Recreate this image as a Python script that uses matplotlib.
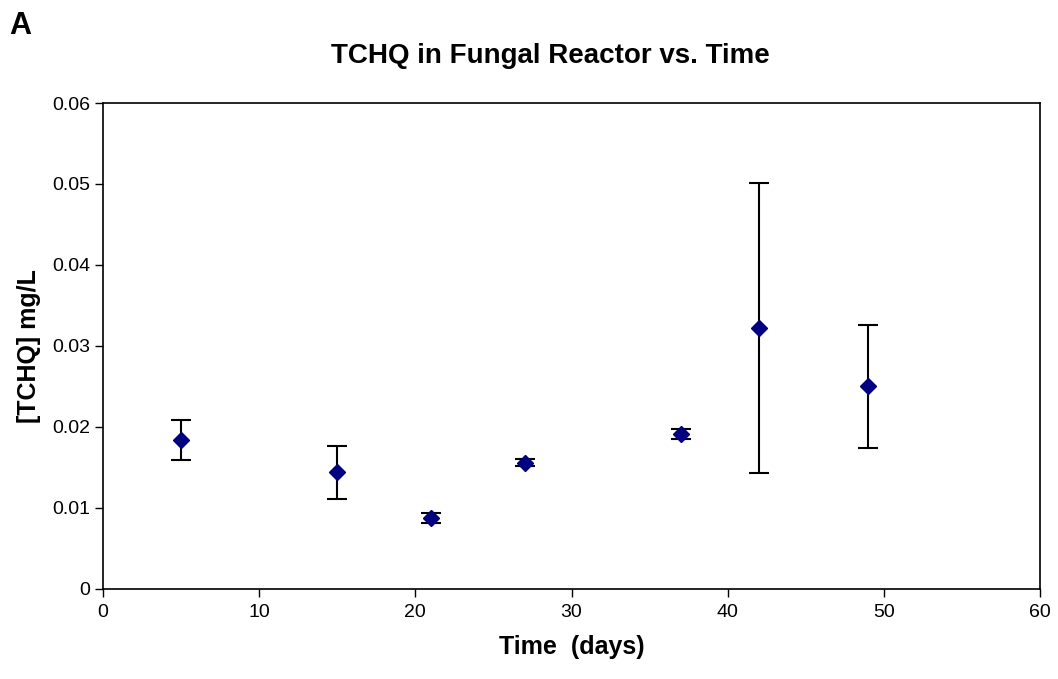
import matplotlib.pyplot as plt
import numpy as np

plt.rc('font', family='Liberation Sans')
plt.rc('font', size=12)

# 데이터
days = [5, 15, 21, 27, 37, 42, 49]
tchq = [0.0184, 0.0144, 0.0088, 0.0156, 0.0191, 0.0322, 0.0250]
tchq_err = [0.0025, 0.0033, 0.0006, 0.0004, 0.0006, 0.0179, 0.0076]
ytick_labels = ['0', '0.01', '0.02', '0.03', '0.04', '0.05', '0.06']

fig = plt.figure(figsize=(10.58, 6.79), dpi=100)
ax = fig.add_axes([0.0974, 0.1326, 0.8856, 0.7157])

ax.errorbar(days, tchq, yerr=tchq_err, fmt='D', color='#000080', markersize=8,
            ecolor='black', elinewidth=1.5, capsize=7, capthick=1.5)

ax.set_xlim(0, 60)
ax.set_ylim(0, 0.06)
ax.set_xticks(np.arange(0, 61, 10))
ax.set_yticks(np.arange(0, 0.061, 0.01))
ax.set_yticklabels(ytick_labels)
ax.tick_params(direction='out', length=6, width=1, labelsize=14)
ax.tick_params(axis='x', pad=5)
ax.tick_params(axis='y', pad=3)
for s in ax.spines.values():
    s.set_linewidth(1.2)

# 제목과 레이블
fig.text(0.52, 0.907, 'TCHQ in Fungal Reactor vs. Time', ha='center', va='baseline',
         fontsize=20, fontweight='bold')
fig.text(0.009, 0.961, 'A', ha='left', va='center', fontsize=22, fontweight='bold')
ax.set_xlabel('Time  (days)', fontsize=18, fontweight='bold', labelpad=10)
ax.set_ylabel('[TCHQ] mg/L', fontsize=18, fontweight='bold', labelpad=8)

plt.savefig('out.png', dpi=100)
